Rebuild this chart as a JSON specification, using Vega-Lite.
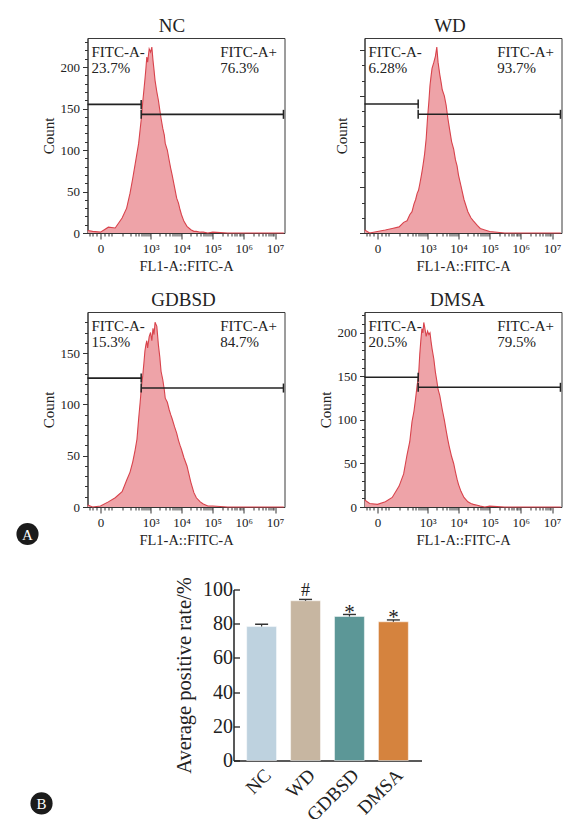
{
  "$schema": "https://vega.github.io/schema/vega-lite/v6.json",
  "background": "white",
  "padding": {"left": 15.5, "top": 16, "right": 0, "bottom": 0},
  "config": {
    "font": "Liberation Serif",
    "view": {"stroke": "#3a3a3a", "strokeWidth": 1},
    "axis": {"labelColor": "#222", "titleColor": "#222", "domainColor": "#333", "tickColor": "#333", "grid": false, "titleFontWeight": "normal", "labelFontSize": 13, "titleFontSize": 15, "labelFlush": false, "labelOverlap": false},
    "title": {"fontWeight": "normal", "fontSize": 19, "color": "#222", "frame": "group", "offset": 2},
    "text": {"color": "#222"}
  },
  "datasets": {
    "hist": [
      {"fl1": -40, "NC": 3, "WD": 2, "GDBSD": 2, "DMSA": 8},
      {"fl1": -20, "NC": 2, "WD": 0, "GDBSD": 0, "DMSA": 4},
      {"fl1": 0, "NC": 1, "WD": 1, "GDBSD": 1, "DMSA": 3},
      {"fl1": 20, "NC": 7, "WD": 2, "GDBSD": 5, "DMSA": 6},
      {"fl1": 50, "NC": 6, "WD": 3, "GDBSD": 9, "DMSA": 11},
      {"fl1": 100, "NC": 18, "WD": 4, "GDBSD": 15, "DMSA": 24},
      {"fl1": 150, "NC": 30, "WD": 7, "GDBSD": 26, "DMSA": 38},
      {"fl1": 200, "NC": 48, "WD": 8, "GDBSD": 34, "DMSA": 60},
      {"fl1": 250, "NC": 66, "WD": 12, "GDBSD": 44, "DMSA": 75},
      {"fl1": 300, "NC": 82, "WD": 14, "GDBSD": 55, "DMSA": 98},
      {"fl1": 350, "NC": 96, "WD": 19, "GDBSD": 66, "DMSA": 110},
      {"fl1": 400, "NC": 108, "WD": 22, "GDBSD": 86, "DMSA": 125},
      {"fl1": 450, "NC": 125, "WD": 26, "GDBSD": 102, "DMSA": 140},
      {"fl1": 500, "NC": 140, "WD": 28, "GDBSD": 118, "DMSA": 150},
      {"fl1": 550, "NC": 158, "WD": 32, "GDBSD": 128, "DMSA": 175},
      {"fl1": 600, "NC": 172, "WD": 36, "GDBSD": 140, "DMSA": 192},
      {"fl1": 650, "NC": 185, "WD": 40, "GDBSD": 152, "DMSA": 205},
      {"fl1": 700, "NC": 198, "WD": 44, "GDBSD": 158, "DMSA": 200},
      {"fl1": 750, "NC": 212, "WD": 48, "GDBSD": 162, "DMSA": 212},
      {"fl1": 800, "NC": 206, "WD": 52, "GDBSD": 155, "DMSA": 207},
      {"fl1": 900, "NC": 222, "WD": 62, "GDBSD": 166, "DMSA": 196},
      {"fl1": 1000, "NC": 218, "WD": 76, "GDBSD": 170, "DMSA": 202},
      {"fl1": 1100, "NC": 224, "WD": 86, "GDBSD": 162, "DMSA": 198},
      {"fl1": 1200, "NC": 208, "WD": 97, "GDBSD": 174, "DMSA": 200},
      {"fl1": 1300, "NC": 196, "WD": 103, "GDBSD": 168, "DMSA": 190},
      {"fl1": 1400, "NC": 184, "WD": 108, "GDBSD": 180, "DMSA": 182},
      {"fl1": 1600, "NC": 170, "WD": 112, "GDBSD": 176, "DMSA": 170},
      {"fl1": 1800, "NC": 160, "WD": 116, "GDBSD": 158, "DMSA": 155},
      {"fl1": 2000, "NC": 148, "WD": 122, "GDBSD": 146, "DMSA": 145},
      {"fl1": 2200, "NC": 138, "WD": 112, "GDBSD": 132, "DMSA": 135},
      {"fl1": 2500, "NC": 126, "WD": 104, "GDBSD": 124, "DMSA": 128},
      {"fl1": 2800, "NC": 118, "WD": 98, "GDBSD": 114, "DMSA": 118},
      {"fl1": 3000, "NC": 108, "WD": 94, "GDBSD": 106, "DMSA": 112},
      {"fl1": 3500, "NC": 100, "WD": 90, "GDBSD": 102, "DMSA": 100},
      {"fl1": 4000, "NC": 88, "WD": 84, "GDBSD": 95, "DMSA": 88},
      {"fl1": 4500, "NC": 78, "WD": 76, "GDBSD": 90, "DMSA": 78},
      {"fl1": 5000, "NC": 70, "WD": 70, "GDBSD": 86, "DMSA": 70},
      {"fl1": 6000, "NC": 55, "WD": 60, "GDBSD": 78, "DMSA": 58},
      {"fl1": 7000, "NC": 42, "WD": 55, "GDBSD": 72, "DMSA": 50},
      {"fl1": 8000, "NC": 36, "WD": 48, "GDBSD": 65, "DMSA": 40},
      {"fl1": 9000, "NC": 28, "WD": 44, "GDBSD": 60, "DMSA": 32},
      {"fl1": 10000, "NC": 22, "WD": 38, "GDBSD": 56, "DMSA": 26},
      {"fl1": 12000, "NC": 14, "WD": 31, "GDBSD": 48, "DMSA": 18},
      {"fl1": 15000, "NC": 8, "WD": 22, "GDBSD": 40, "DMSA": 11},
      {"fl1": 20000, "NC": 4, "WD": 14, "GDBSD": 24, "DMSA": 6},
      {"fl1": 25000, "NC": 2, "WD": 10, "GDBSD": 14, "DMSA": 4},
      {"fl1": 30000, "NC": 2, "WD": 8, "GDBSD": 9, "DMSA": 3},
      {"fl1": 40000, "NC": 1, "WD": 5, "GDBSD": 5, "DMSA": 2},
      {"fl1": 50000, "NC": 1, "WD": 3, "GDBSD": 3, "DMSA": 1},
      {"fl1": 70000, "NC": 0, "WD": 2, "GDBSD": 1, "DMSA": 0},
      {"fl1": 100000, "NC": 1, "WD": 1, "GDBSD": 1, "DMSA": 1},
      {"fl1": 300000, "NC": 0, "WD": 0, "GDBSD": 0, "DMSA": 0},
      {"fl1": 1000000, "NC": 0, "WD": 0, "GDBSD": 0, "DMSA": 0},
      {"fl1": 3000000, "NC": 0, "WD": 0, "GDBSD": 0, "DMSA": 0},
      {"fl1": 10000000, "NC": 0, "WD": 0, "GDBSD": 0, "DMSA": 0},
      {"fl1": 19000000, "NC": 0, "WD": 0, "GDBSD": 0, "DMSA": 0}
    ],
    "gates": [
      {"panel": "NC", "gate": "FITC-A-", "pct": "23.7%", "from": -41, "to": 487, "level": 155},
      {"panel": "NC", "gate": "FITC-A+", "pct": "76.3%", "from": 487, "to": 18500000, "level": 143},
      {"panel": "WD", "gate": "FITC-A-", "pct": "6.28%", "from": -41, "to": 487, "level": 84.7},
      {"panel": "WD", "gate": "FITC-A+", "pct": "93.7%", "from": 487, "to": 18500000, "level": 77.9},
      {"panel": "GDBSD", "gate": "FITC-A-", "pct": "15.3%", "from": -41, "to": 487, "level": 125.6},
      {"panel": "GDBSD", "gate": "FITC-A+", "pct": "84.7%", "from": 487, "to": 18500000, "level": 115.9},
      {"panel": "DMSA", "gate": "FITC-A-", "pct": "20.5%", "from": -41, "to": 487, "level": 149},
      {"panel": "DMSA", "gate": "FITC-A+", "pct": "79.5%", "from": 487, "to": 18500000, "level": 137.5}
    ],
    "rates": [
      {"group": "NC", "rate": 78.3, "upper": 79.7, "sig": ""},
      {"group": "WD", "rate": 93.4, "upper": 94.2, "sig": "#"},
      {"group": "GDBSD", "rate": 84.2, "upper": 85.4, "sig": "*"},
      {"group": "DMSA", "rate": 81.1, "upper": 82.2, "sig": "*"}
    ]
  },
  "spacing": 29.5,
  "vconcat": [
    {
      "columns": 2,
      "spacing": {"column": 30, "row": 17},
      "concat": [
        {
          "width": 197, "height": 195,
          "title": {"text": "NC", "dx": -14},
          "data": {"name": "hist"},
          "resolve": {"axis": {"x": "independent", "y": "independent"}},
          "layer": [
            {
              "mark": {"type": "area", "color": "#eea3a8", "opacity": 1, "line": {"color": "#d8434c", "strokeWidth": 1.1}},
              "encoding": {
                "x": {"field": "fl1", "type": "quantitative", "scale": {"type": "symlog", "constant": 25.5, "domain": [-41, 20000000], "nice": false, "zero": false},
                  "axis": {"orient": "bottom", "values": [0, 1000, 10000, 100000, 1000000, 10000000], "labelExpr": "datum.value == 0 ? '0' : datum.value == 1000 ? '10³' : datum.value == 10000 ? '10⁴' : datum.value == 100000 ? '10⁵' : datum.value == 1000000 ? '10⁶' : '10⁷'", "title": "FL1-A::FITC-A", "tickSize": 6, "labelPadding": 3, "titlePadding": 4, "titleFontSize": 14.5, "labelOverlap": false}},
                "y": {"field": "NC", "type": "quantitative", "scale": {"domain": [0, 235], "nice": false},
                  "axis": {"orient": "left", "values": [0, 50, 100, 150, 200], "title": "Count", "tickSize": 5, "labelPadding": 3, "titlePadding": 4, "labelOverlap": false}}
              }
            },
            {
              "data": {"name": "gates"},
              "transform": [{"filter": "datum.panel == 'NC'"}],
              "mark": {"type": "rule", "color": "#222", "strokeWidth": 1.6},
              "encoding": {
                "x": {"field": "from", "type": "quantitative", "axis": {"orient": "bottom", "values": [-30, -20, -10, 10, 20, 30, 100, 200, 300, 400, 500, 600, 700, 800, 900, 2000, 3000, 4000, 5000, 6000, 7000, 8000, 9000, 20000, 30000, 40000, 50000, 60000, 70000, 80000, 90000, 200000, 300000, 400000, 500000, 600000, 700000, 800000, 900000, 2000000, 3000000, 4000000, 5000000, 6000000, 7000000, 8000000, 9000000], "labels": false, "domain": false, "title": null, "tickSize": 3}},
                "x2": {"field": "to"},
                "y": {"field": "level", "type": "quantitative", "axis": {"orient": "left", "values": [10, 20, 30, 40, 60, 70, 80, 90, 110, 120, 130, 140, 160, 170, 180, 190, 210, 220, 230], "labels": false, "domain": false, "title": null, "tickSize": 3}}
              }
            },
            {
              "data": {"name": "gates"},
              "transform": [{"filter": "datum.panel == 'NC'"}],
              "mark": {"type": "tick", "orient": "vertical", "size": 9, "thickness": 1.5, "color": "#222", "opacity": 1},
              "encoding": {"x": {"field": "to", "type": "quantitative", "axis": null}, "y": {"field": "level", "type": "quantitative", "axis": null}}
            },
            {
              "data": {"name": "gates"},
              "transform": [{"filter": "datum.panel == 'NC' && datum.gate == 'FITC-A+'"}],
              "mark": {"type": "tick", "orient": "vertical", "size": 9, "thickness": 1.5, "color": "#222", "opacity": 1},
              "encoding": {"x": {"field": "from", "type": "quantitative", "axis": null}, "y": {"field": "level", "type": "quantitative", "axis": null}}
            },
            {
              "data": {"name": "gates"},
              "transform": [{"filter": "datum.panel == 'NC' && datum.gate == 'FITC-A-'"}],
              "mark": {"type": "text", "align": "left", "baseline": "alphabetic", "dx": 4, "dy": 19, "fontSize": 15},
              "encoding": {"x": {"datum": -41, "axis": null}, "y": {"datum": 235, "axis": null}, "text": {"field": "gate"}}
            },
            {
              "data": {"name": "gates"},
              "transform": [{"filter": "datum.panel == 'NC' && datum.gate == 'FITC-A-'"}],
              "mark": {"type": "text", "align": "left", "baseline": "alphabetic", "dx": 4, "dy": 35, "fontSize": 15},
              "encoding": {"x": {"datum": -41, "axis": null}, "y": {"datum": 235, "axis": null}, "text": {"field": "pct"}}
            },
            {
              "data": {"name": "gates"},
              "transform": [{"filter": "datum.panel == 'NC' && datum.gate == 'FITC-A+'"}],
              "mark": {"type": "text", "align": "left", "baseline": "alphabetic", "dy": 19, "fontSize": 15},
              "encoding": {"x": {"datum": 175000, "axis": null}, "y": {"datum": 235, "axis": null}, "text": {"field": "gate"}}
            },
            {
              "data": {"name": "gates"},
              "transform": [{"filter": "datum.panel == 'NC' && datum.gate == 'FITC-A+'"}],
              "mark": {"type": "text", "align": "left", "baseline": "alphabetic", "dy": 35, "fontSize": 15},
              "encoding": {"x": {"datum": 175000, "axis": null}, "y": {"datum": 235, "axis": null}, "text": {"field": "pct"}}
            }
          ]
        },
        {
          "width": 197, "height": 195,
          "title": {"text": "WD", "dx": -13},
          "data": {"name": "hist"},
          "resolve": {"axis": {"x": "independent", "y": "independent"}},
          "layer": [
            {
              "mark": {"type": "area", "color": "#eea3a8", "opacity": 1, "line": {"color": "#d8434c", "strokeWidth": 1.1}},
              "encoding": {
                "x": {"field": "fl1", "type": "quantitative", "scale": {"type": "symlog", "constant": 25.5, "domain": [-41, 20000000], "nice": false, "zero": false},
                  "axis": {"orient": "bottom", "values": [0, 1000, 10000, 100000, 1000000, 10000000], "labelExpr": "datum.value == 0 ? '0' : datum.value == 1000 ? '10³' : datum.value == 10000 ? '10⁴' : datum.value == 100000 ? '10⁵' : datum.value == 1000000 ? '10⁶' : '10⁷'", "title": "FL1-A::FITC-A", "tickSize": 6, "labelPadding": 3, "titlePadding": 4, "titleFontSize": 14.5, "labelOverlap": false}},
                "y": {"field": "WD", "type": "quantitative", "scale": {"domain": [0, 128], "nice": false},
                  "axis": {"orient": "left", "values": [0, 30, 60, 90, 120], "labels": false, "title": "Count", "tickSize": 5, "titlePadding": 10}}
              }
            },
            {
              "data": {"name": "gates"},
              "transform": [{"filter": "datum.panel == 'WD'"}],
              "mark": {"type": "rule", "color": "#222", "strokeWidth": 1.6},
              "encoding": {
                "x": {"field": "from", "type": "quantitative", "axis": {"orient": "bottom", "values": [-30, -20, -10, 10, 20, 30, 100, 200, 300, 400, 500, 600, 700, 800, 900, 2000, 3000, 4000, 5000, 6000, 7000, 8000, 9000, 20000, 30000, 40000, 50000, 60000, 70000, 80000, 90000, 200000, 300000, 400000, 500000, 600000, 700000, 800000, 900000, 2000000, 3000000, 4000000, 5000000, 6000000, 7000000, 8000000, 9000000], "labels": false, "domain": false, "title": null, "tickSize": 3}},
                "x2": {"field": "to"},
                "y": {"field": "level", "type": "quantitative", "axis": {"orient": "left", "values": [10, 20, 40, 50, 70, 80, 100, 110], "labels": false, "domain": false, "title": null, "tickSize": 3}}
              }
            },
            {
              "data": {"name": "gates"},
              "transform": [{"filter": "datum.panel == 'WD'"}],
              "mark": {"type": "tick", "orient": "vertical", "size": 9, "thickness": 1.5, "color": "#222", "opacity": 1},
              "encoding": {"x": {"field": "to", "type": "quantitative", "axis": null}, "y": {"field": "level", "type": "quantitative", "axis": null}}
            },
            {
              "data": {"name": "gates"},
              "transform": [{"filter": "datum.panel == 'WD' && datum.gate == 'FITC-A+'"}],
              "mark": {"type": "tick", "orient": "vertical", "size": 9, "thickness": 1.5, "color": "#222", "opacity": 1},
              "encoding": {"x": {"field": "from", "type": "quantitative", "axis": null}, "y": {"field": "level", "type": "quantitative", "axis": null}}
            },
            {
              "data": {"name": "gates"},
              "transform": [{"filter": "datum.panel == 'WD' && datum.gate == 'FITC-A-'"}],
              "mark": {"type": "text", "align": "left", "baseline": "alphabetic", "dx": 4, "dy": 19, "fontSize": 15},
              "encoding": {"x": {"datum": -41, "axis": null}, "y": {"datum": 128, "axis": null}, "text": {"field": "gate"}}
            },
            {
              "data": {"name": "gates"},
              "transform": [{"filter": "datum.panel == 'WD' && datum.gate == 'FITC-A-'"}],
              "mark": {"type": "text", "align": "left", "baseline": "alphabetic", "dx": 4, "dy": 35, "fontSize": 15},
              "encoding": {"x": {"datum": -41, "axis": null}, "y": {"datum": 128, "axis": null}, "text": {"field": "pct"}}
            },
            {
              "data": {"name": "gates"},
              "transform": [{"filter": "datum.panel == 'WD' && datum.gate == 'FITC-A+'"}],
              "mark": {"type": "text", "align": "left", "baseline": "alphabetic", "dy": 19, "fontSize": 15},
              "encoding": {"x": {"datum": 175000, "axis": null}, "y": {"datum": 128, "axis": null}, "text": {"field": "gate"}}
            },
            {
              "data": {"name": "gates"},
              "transform": [{"filter": "datum.panel == 'WD' && datum.gate == 'FITC-A+'"}],
              "mark": {"type": "text", "align": "left", "baseline": "alphabetic", "dy": 35, "fontSize": 15},
              "encoding": {"x": {"datum": 175000, "axis": null}, "y": {"datum": 128, "axis": null}, "text": {"field": "pct"}}
            }
          ]
        },
        {
          "width": 197, "height": 195,
          "title": {"text": "GDBSD", "dx": -2.5},
          "data": {"name": "hist"},
          "resolve": {"axis": {"x": "independent", "y": "independent"}},
          "layer": [
            {
              "mark": {"type": "area", "color": "#eea3a8", "opacity": 1, "line": {"color": "#d8434c", "strokeWidth": 1.1}},
              "encoding": {
                "x": {"field": "fl1", "type": "quantitative", "scale": {"type": "symlog", "constant": 25.5, "domain": [-41, 20000000], "nice": false, "zero": false},
                  "axis": {"orient": "bottom", "values": [0, 1000, 10000, 100000, 1000000, 10000000], "labelExpr": "datum.value == 0 ? '0' : datum.value == 1000 ? '10³' : datum.value == 10000 ? '10⁴' : datum.value == 100000 ? '10⁵' : datum.value == 1000000 ? '10⁶' : '10⁷'", "title": "FL1-A::FITC-A", "tickSize": 6, "labelPadding": 3, "titlePadding": 4, "titleFontSize": 14.5, "labelOverlap": false}},
                "y": {"field": "GDBSD", "type": "quantitative", "scale": {"domain": [0, 190], "nice": false},
                  "axis": {"orient": "left", "values": [0, 50, 100, 150], "title": "Count", "tickSize": 5, "labelPadding": 3, "titlePadding": 4, "labelOverlap": false}}
              }
            },
            {
              "data": {"name": "gates"},
              "transform": [{"filter": "datum.panel == 'GDBSD'"}],
              "mark": {"type": "rule", "color": "#222", "strokeWidth": 1.6},
              "encoding": {
                "x": {"field": "from", "type": "quantitative", "axis": {"orient": "bottom", "values": [-30, -20, -10, 10, 20, 30, 100, 200, 300, 400, 500, 600, 700, 800, 900, 2000, 3000, 4000, 5000, 6000, 7000, 8000, 9000, 20000, 30000, 40000, 50000, 60000, 70000, 80000, 90000, 200000, 300000, 400000, 500000, 600000, 700000, 800000, 900000, 2000000, 3000000, 4000000, 5000000, 6000000, 7000000, 8000000, 9000000], "labels": false, "domain": false, "title": null, "tickSize": 3}},
                "x2": {"field": "to"},
                "y": {"field": "level", "type": "quantitative", "axis": {"orient": "left", "values": [10, 20, 30, 40, 60, 70, 80, 90, 110, 120, 130, 140, 160, 170, 180], "labels": false, "domain": false, "title": null, "tickSize": 3}}
              }
            },
            {
              "data": {"name": "gates"},
              "transform": [{"filter": "datum.panel == 'GDBSD'"}],
              "mark": {"type": "tick", "orient": "vertical", "size": 9, "thickness": 1.5, "color": "#222", "opacity": 1},
              "encoding": {"x": {"field": "to", "type": "quantitative", "axis": null}, "y": {"field": "level", "type": "quantitative", "axis": null}}
            },
            {
              "data": {"name": "gates"},
              "transform": [{"filter": "datum.panel == 'GDBSD' && datum.gate == 'FITC-A+'"}],
              "mark": {"type": "tick", "orient": "vertical", "size": 9, "thickness": 1.5, "color": "#222", "opacity": 1},
              "encoding": {"x": {"field": "from", "type": "quantitative", "axis": null}, "y": {"field": "level", "type": "quantitative", "axis": null}}
            },
            {
              "data": {"name": "gates"},
              "transform": [{"filter": "datum.panel == 'GDBSD' && datum.gate == 'FITC-A-'"}],
              "mark": {"type": "text", "align": "left", "baseline": "alphabetic", "dx": 4, "dy": 19, "fontSize": 15},
              "encoding": {"x": {"datum": -41, "axis": null}, "y": {"datum": 190, "axis": null}, "text": {"field": "gate"}}
            },
            {
              "data": {"name": "gates"},
              "transform": [{"filter": "datum.panel == 'GDBSD' && datum.gate == 'FITC-A-'"}],
              "mark": {"type": "text", "align": "left", "baseline": "alphabetic", "dx": 4, "dy": 35, "fontSize": 15},
              "encoding": {"x": {"datum": -41, "axis": null}, "y": {"datum": 190, "axis": null}, "text": {"field": "pct"}}
            },
            {
              "data": {"name": "gates"},
              "transform": [{"filter": "datum.panel == 'GDBSD' && datum.gate == 'FITC-A+'"}],
              "mark": {"type": "text", "align": "left", "baseline": "alphabetic", "dy": 19, "fontSize": 15},
              "encoding": {"x": {"datum": 175000, "axis": null}, "y": {"datum": 190, "axis": null}, "text": {"field": "gate"}}
            },
            {
              "data": {"name": "gates"},
              "transform": [{"filter": "datum.panel == 'GDBSD' && datum.gate == 'FITC-A+'"}],
              "mark": {"type": "text", "align": "left", "baseline": "alphabetic", "dy": 35, "fontSize": 15},
              "encoding": {"x": {"datum": 175000, "axis": null}, "y": {"datum": 190, "axis": null}, "text": {"field": "pct"}}
            },
            {
              "data": {"values": [{"badge": "A"}]},
              "mark": {"type": "point", "shape": "circle", "filled": true, "size": 491, "color": "#1b1b1b", "opacity": 1},
              "encoding": {"x": {"datum": -5529, "axis": null}, "y": {"datum": -26.3, "axis": null}}
            },
            {
              "data": {"values": [{"badge": "A"}]},
              "mark": {"type": "text", "color": "white", "fontSize": 15, "align": "center", "baseline": "middle", "dy": 1},
              "encoding": {"x": {"datum": -5529, "axis": null}, "y": {"datum": -26.3, "axis": null}, "text": {"field": "badge"}}
            }
          ]
        },
        {
          "width": 197, "height": 195,
          "title": {"text": "DMSA", "dx": -5.5},
          "data": {"name": "hist"},
          "resolve": {"axis": {"x": "independent", "y": "independent"}},
          "layer": [
            {
              "mark": {"type": "area", "color": "#eea3a8", "opacity": 1, "line": {"color": "#d8434c", "strokeWidth": 1.1}},
              "encoding": {
                "x": {"field": "fl1", "type": "quantitative", "scale": {"type": "symlog", "constant": 25.5, "domain": [-41, 20000000], "nice": false, "zero": false},
                  "axis": {"orient": "bottom", "values": [0, 1000, 10000, 100000, 1000000, 10000000], "labelExpr": "datum.value == 0 ? '0' : datum.value == 1000 ? '10³' : datum.value == 10000 ? '10⁴' : datum.value == 100000 ? '10⁵' : datum.value == 1000000 ? '10⁶' : '10⁷'", "title": "FL1-A::FITC-A", "tickSize": 6, "labelPadding": 3, "titlePadding": 4, "titleFontSize": 14.5, "labelOverlap": false}},
                "y": {"field": "DMSA", "type": "quantitative", "scale": {"domain": [0, 224], "nice": false},
                  "axis": {"orient": "left", "values": [0, 50, 100, 150, 200], "title": "Count", "tickSize": 5, "labelPadding": 3, "titlePadding": 4, "labelOverlap": false}}
              }
            },
            {
              "data": {"name": "gates"},
              "transform": [{"filter": "datum.panel == 'DMSA'"}],
              "mark": {"type": "rule", "color": "#222", "strokeWidth": 1.6},
              "encoding": {
                "x": {"field": "from", "type": "quantitative", "axis": {"orient": "bottom", "values": [-30, -20, -10, 10, 20, 30, 100, 200, 300, 400, 500, 600, 700, 800, 900, 2000, 3000, 4000, 5000, 6000, 7000, 8000, 9000, 20000, 30000, 40000, 50000, 60000, 70000, 80000, 90000, 200000, 300000, 400000, 500000, 600000, 700000, 800000, 900000, 2000000, 3000000, 4000000, 5000000, 6000000, 7000000, 8000000, 9000000], "labels": false, "domain": false, "title": null, "tickSize": 3}},
                "x2": {"field": "to"},
                "y": {"field": "level", "type": "quantitative", "axis": {"orient": "left", "values": [10, 20, 30, 40, 60, 70, 80, 90, 110, 120, 130, 140, 160, 170, 180, 190, 210, 220], "labels": false, "domain": false, "title": null, "tickSize": 3}}
              }
            },
            {
              "data": {"name": "gates"},
              "transform": [{"filter": "datum.panel == 'DMSA'"}],
              "mark": {"type": "tick", "orient": "vertical", "size": 9, "thickness": 1.5, "color": "#222", "opacity": 1},
              "encoding": {"x": {"field": "to", "type": "quantitative", "axis": null}, "y": {"field": "level", "type": "quantitative", "axis": null}}
            },
            {
              "data": {"name": "gates"},
              "transform": [{"filter": "datum.panel == 'DMSA' && datum.gate == 'FITC-A+'"}],
              "mark": {"type": "tick", "orient": "vertical", "size": 9, "thickness": 1.5, "color": "#222", "opacity": 1},
              "encoding": {"x": {"field": "from", "type": "quantitative", "axis": null}, "y": {"field": "level", "type": "quantitative", "axis": null}}
            },
            {
              "data": {"name": "gates"},
              "transform": [{"filter": "datum.panel == 'DMSA' && datum.gate == 'FITC-A-'"}],
              "mark": {"type": "text", "align": "left", "baseline": "alphabetic", "dx": 4, "dy": 19, "fontSize": 15},
              "encoding": {"x": {"datum": -41, "axis": null}, "y": {"datum": 224, "axis": null}, "text": {"field": "gate"}}
            },
            {
              "data": {"name": "gates"},
              "transform": [{"filter": "datum.panel == 'DMSA' && datum.gate == 'FITC-A-'"}],
              "mark": {"type": "text", "align": "left", "baseline": "alphabetic", "dx": 4, "dy": 35, "fontSize": 15},
              "encoding": {"x": {"datum": -41, "axis": null}, "y": {"datum": 224, "axis": null}, "text": {"field": "pct"}}
            },
            {
              "data": {"name": "gates"},
              "transform": [{"filter": "datum.panel == 'DMSA' && datum.gate == 'FITC-A+'"}],
              "mark": {"type": "text", "align": "left", "baseline": "alphabetic", "dy": 19, "fontSize": 15},
              "encoding": {"x": {"datum": 175000, "axis": null}, "y": {"datum": 224, "axis": null}, "text": {"field": "gate"}}
            },
            {
              "data": {"name": "gates"},
              "transform": [{"filter": "datum.panel == 'DMSA' && datum.gate == 'FITC-A+'"}],
              "mark": {"type": "text", "align": "left", "baseline": "alphabetic", "dy": 35, "fontSize": 15},
              "encoding": {"x": {"datum": 175000, "axis": null}, "y": {"datum": 224, "axis": null}, "text": {"field": "pct"}}
            }
          ]
        }
      ]
    },
    {
      "spacing": 11,
      "hconcat": [
        {
          "width": 76, "height": 171,
          "view": {"stroke": null},
          "data": {"values": [{"badge": "B"}]},
          "layer": [
            {
              "mark": {"type": "point", "shape": "circle", "filled": true, "size": 491, "color": "#1b1b1b", "opacity": 1},
              "encoding": {"x": {"datum": -0.605, "type": "quantitative", "scale": {"domain": [0, 1], "nice": false, "zero": false}, "axis": null}, "y": {"datum": -0.251, "type": "quantitative", "scale": {"domain": [0, 1], "nice": false, "zero": false}, "axis": null}}
            },
            {
              "mark": {"type": "text", "color": "white", "fontSize": 15, "align": "center", "baseline": "middle", "dy": 1},
              "encoding": {"x": {"datum": -0.605, "type": "quantitative"}, "y": {"datum": -0.251, "type": "quantitative"}, "text": {"field": "badge"}}
            }
          ]
        },
        {
          "width": 188, "height": 171,
          "view": {"stroke": null},
          "data": {"name": "rates"},
          "resolve": {"axis": {"y": "independent"}},
          "encoding": {
            "x": {"field": "group", "type": "nominal", "sort": null, "scale": {"paddingInner": 0.32, "paddingOuter": 0.3},
              "axis": {"title": null, "labelAngle": -45, "labelFontSize": 19, "ticks": false, "labelPadding": 5, "domainWidth": 1.5, "domainColor": "#222", "labelOverlap": false}}
          },
          "layer": [
            {
              "mark": {"type": "bar", "stroke": "#ffffff", "strokeWidth": 0.8, "strokeOpacity": 0.6},
              "encoding": {
                "y": {"field": "rate", "type": "quantitative", "scale": {"domain": [0, 100], "nice": false},
                  "axis": {"orient": "left", "values": [0, 20, 40, 60, 80, 100], "title": "Average positive rate/%", "titleFontSize": 20.5, "labelFontSize": 20, "tickSize": -6, "labelPadding": 7, "domainWidth": 1.5, "domainColor": "#222", "tickColor": "#222", "tickWidth": 1.3, "titlePadding": 8, "labelOverlap": false}},
                "color": {"field": "group", "type": "nominal", "scale": {"domain": ["NC", "WD", "GDBSD", "DMSA"], "range": ["#bed2df", "#c7b6a1", "#5c9797", "#d5833e"]}, "legend": null}
              }
            },
            {
              "mark": {"type": "rule", "color": "#333", "strokeWidth": 1.2},
              "encoding": {"y": {"field": "rate", "type": "quantitative", "axis": null}, "y2": {"field": "upper"}}
            },
            {
              "mark": {"type": "tick", "orient": "horizontal", "size": 13, "thickness": 1.4, "color": "#333", "opacity": 1},
              "encoding": {"y": {"field": "upper", "type": "quantitative", "axis": null}}
            },
            {
              "transform": [{"filter": "datum.sig == '#'"}],
              "mark": {"type": "text", "fontSize": 18, "baseline": "alphabetic", "dy": -3.7},
              "encoding": {"y": {"field": "upper", "type": "quantitative", "axis": null}, "text": {"field": "sig"}}
            },
            {
              "transform": [{"filter": "datum.sig == '*'"}],
              "mark": {"type": "text", "fontSize": 21, "baseline": "alphabetic", "dy": 4.5},
              "encoding": {"y": {"field": "upper", "type": "quantitative", "axis": null}, "text": {"field": "sig"}}
            }
          ]
        }
      ]
    }
  ]
}
